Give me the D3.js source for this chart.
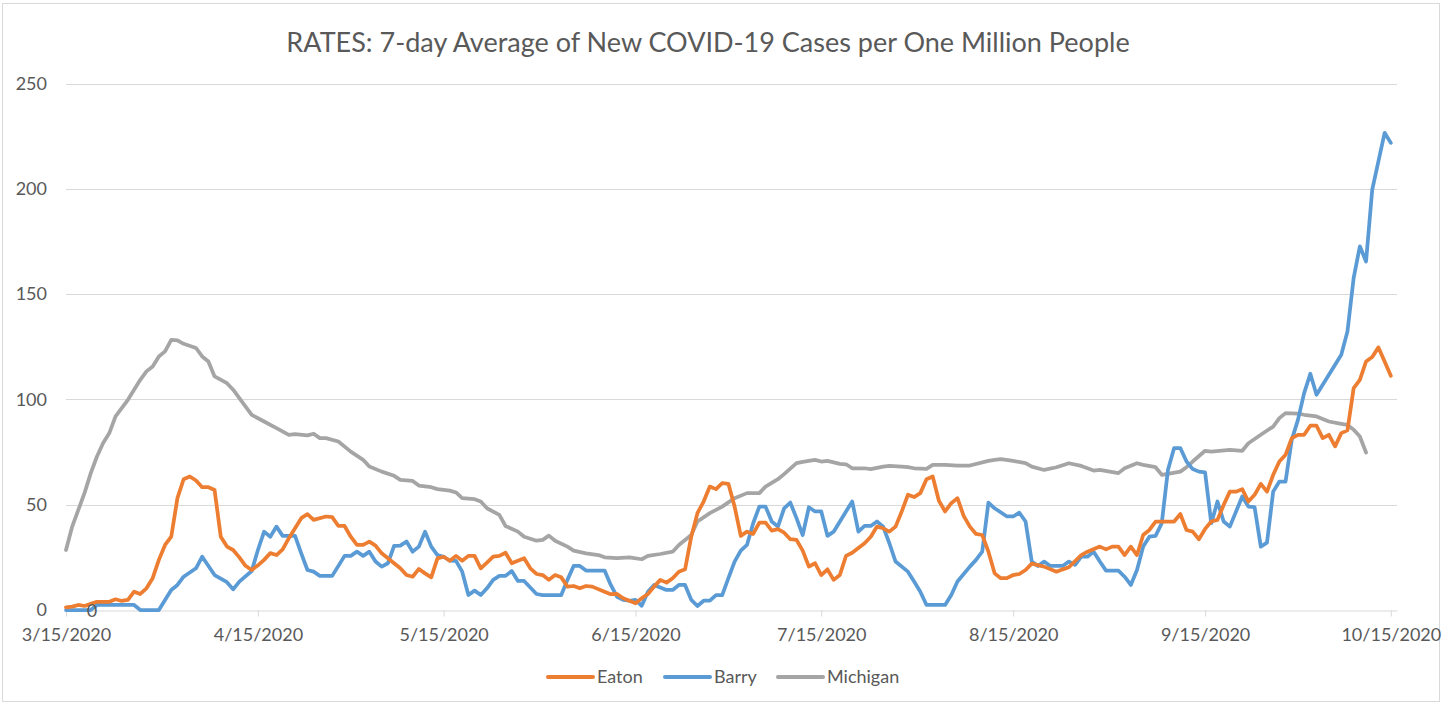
<!DOCTYPE html>
<html lang="en">
<head>
<meta charset="utf-8">
<title>RATES: 7-day Average of New COVID-19 Cases per One Million People</title>
<script src="https://cdn.jsdelivr.net/npm/d3@7"></script>
<style>
  body { margin: 0; background: #fff; }
  svg text { font-family: Lato, "Open Sans", sans-serif; fill: #595959; }
  .grid line { stroke: #D9D9D9; stroke-width: 1; }
  .series { fill: none; stroke-width: 3.75; stroke-linejoin: round; stroke-linecap: round; }
</style>
</head>
<body>
<script>

// data: [days after 3/15/2020, 7-day avg cases per million]
var startDate = "3/15/2020";
var xTicks = ["3/15/2020", "4/15/2020", "5/15/2020", "6/15/2020", "7/15/2020", "8/15/2020", "9/15/2020", "10/15/2020"];
var yTicks = [0, 50, 100, 150, 200, 250];
var seriesNames = ["Eaton", "Barry", "Michigan"];
var seriesColors = ["#ED7D31", "#5B9BD5", "#A5A5A5"];

var eaton = [[0,1.3],[1,1.6],[2,2.4],[3,1.9],[4,2.9],[5,3.9],[7,3.9],[8,5.1],[9,4.3],[10,4.8],[11,8.7],[12,7.6],[13,10.3],[14,15.1],[15,23.8],[16,30.9],[17,34.8],[18,53.1],[19,62.1],[20,63.4],[21,61.5],[22,58.3],[23,58.3],[24,57],[25,34.8],[26,30.1],[27,28.5],[28,25],[29,21],[30,19],[31,21.2],[32,23.8],[33,27],[34,26.1],[35,28.8],[36,34.1],[38,43.6],[39,45.5],[40,42.8],[42,44.4],[43,44.1],[44,39.9],[45,39.9],[46,34.8],[47,30.9],[48,30.9],[49,32.5],[50,30.6],[51,26.9],[52,24.6],[53,22.2],[54,19.8],[55,16.6],[56,15.8],[57,19.5],[58,17.4],[59,15.5],[60,24.5],[61,25.3],[62,23.4],[63,25.7],[64,23.4],[65,25.7],[66,25.7],[67,19.8],[68,22.5],[69,25.3],[70,25.7],[71,27.2],[72,22.2],[73,23.4],[74,24.6],[75,19.8],[76,17.1],[77,16.6],[78,14.3],[79,16.6],[80,15.5],[81,11.1],[82,11.4],[83,10.3],[84,11.4],[85,11.1],[87,8.7],[88,7.5],[89,7.6],[90,5.6],[91,4.4],[92,3.2],[93,5.6],[94,7.6],[95,11.1],[96,14.3],[97,13],[98,15.1],[99,18.2],[100,19.3],[101,34.8],[102,46],[103,51.5],[104,58.6],[105,57.4],[106,60.2],[107,59.9],[108,49.1],[109,35.2],[110,37.2],[111,36.1],[112,41.5],[113,41.5],[114,37.7],[115,38.4],[116,36.7],[117,33.6],[118,33.3],[119,28.2],[120,20.6],[121,22.2],[122,16.6],[123,19.3],[124,14.3],[125,16.6],[126,25.7],[127,27.2],[129,31.7],[130,34.8],[131,39.6],[132,38.8],[133,37.2],[134,39.6],[135,46.8],[136,54.7],[137,53.6],[138,55.5],[139,62.1],[140,63.4],[141,51.9],[142,46.8],[143,50.7],[144,53.1],[145,44.7],[146,39.6],[147,36.1],[148,35.6],[149,27.7],[150,17.4],[151,15.1],[152,15.1],[153,16.6],[154,17.1],[155,19],[156,22],[158,20.6],[160,18.2],[161,19.3],[162,20.3],[164,26.1],[165,27.7],[167,30.1],[168,28.8],[169,30.1],[170,30.1],[171,26.1],[172,30.1],[173,26.1],[174,35.6],[175,38],[176,42],[177,42],[179,42],[180,45.6],[181,38],[182,37.2],[183,33.6],[184,38.5],[185,42],[186,42.8],[187,49.9],[188,56.2],[189,56.2],[190,57.4],[191,51.5],[192,54.7],[193,59.9],[194,56.2],[195,64.2],[196,70.5],[197,73.7],[198,81.6],[199,83.2],[200,83.2],[201,87.5],[202,87.5],[203,81.6],[204,83.2],[205,77.7],[206,84],[207,85.3],[208,105.4],[209,109.3],[210,118],[211,120.1],[212,124.7],[213,118],[214,111.2]];

var barry = [[0,0],[4,0],[5,2.4],[11,2.4],[12,0],[15,0],[17,9.5],[18,11.9],[19,15.8],[21,19.8],[22,25.3],[24,16.6],[26,13.2],[27,9.8],[28,13.5],[30,18.5],[31,28.5],[32,37.2],[33,34.8],[34,39.6],[35,35.2],[37,35.2],[38,26.9],[39,19],[40,18.2],[41,16.2],[43,16.2],[45,25.7],[46,25.7],[47,27.7],[48,25.7],[49,27.7],[50,23],[51,20.6],[52,22.2],[53,30.4],[54,30.6],[55,32.5],[56,27.7],[57,30.1],[58,37.2],[59,30.1],[60,26.1],[61,25.3],[62,23.4],[63,23.3],[64,18.2],[65,7.1],[66,9.2],[67,7.1],[68,10.3],[69,14.3],[70,16.2],[71,16.2],[72,18.5],[73,13.8],[74,13.8],[76,7.6],[77,7.1],[80,7.1],[81,14.3],[82,20.9],[83,20.9],[84,18.7],[87,18.7],[88,11.9],[89,6.3],[90,4.8],[91,4.4],[92,4.8],[93,2],[94,8.7],[95,11.9],[97,9.5],[98,9.5],[99,11.9],[100,11.9],[101,4.8],[102,1.9],[103,4.4],[104,4.4],[105,7.1],[106,7.1],[107,15.1],[108,23],[109,28.2],[110,30.9],[111,41.2],[112,49.1],[113,49.1],[114,42],[115,39.6],[116,48.3],[117,51],[118,43.6],[119,35.6],[120,48.8],[121,46.8],[122,46.8],[123,35.2],[124,37.2],[126,46.8],[127,51.5],[128,37.2],[129,39.9],[130,39.9],[131,42],[132,39.6],[133,31.7],[134,23],[136,18.2],[137,13.5],[138,8.7],[139,2.4],[142,2.4],[143,7.1],[144,13.5],[146,20.6],[147,23.8],[148,27.7],[149,51],[150,48.3],[152,44.4],[153,44.4],[154,46.2],[155,42],[156,23],[157,20.9],[158,23],[159,20.9],[161,20.9],[162,23],[163,21.4],[164,25.3],[165,25.3],[166,27.7],[167,23],[168,18.7],[170,18.7],[171,15.8],[172,11.9],[173,19],[174,30.1],[175,34.8],[176,35.2],[177,41.2],[178,66.5],[179,76.9],[180,76.9],[181,70.5],[182,66.9],[183,65.7],[184,65.3],[185,41.2],[186,51.5],[187,42],[188,39.6],[190,53.9],[191,49.1],[192,48.8],[193,30.1],[194,32],[195,56.2],[196,61],[197,61],[198,80.8],[199,90.3],[200,103],[201,112.2],[202,102.2],[206,121.2],[207,132.3],[208,157.7],[209,172.7],[210,165.5],[211,199.6],[213,226.6],[214,221.8]];

var michigan = [[0,28.5],[1,39.6],[3,55.6],[4,65],[5,72.9],[6,79.3],[7,84],[8,91.9],[10,99.8],[12,109.3],[13,113.3],[14,115.6],[15,120.4],[16,122.8],[17,128.3],[18,128],[19,126.4],[21,124.4],[22,120.4],[23,118],[24,110.9],[26,107.7],[27,104.6],[28,100.6],[30,92.7],[32,89.5],[34,86.4],[36,83.2],[37,83.5],[39,82.9],[40,83.7],[41,81.6],[42,81.6],[44,80],[46,75.2],[48,71.3],[49,68.1],[51,65.7],[53,63.7],[54,61.8],[56,61.3],[57,59.1],[59,58.3],[60,57.4],[62,56.7],[63,55.8],[64,53.1],[66,52.6],[67,51.5],[68,48.3],[70,45.2],[71,39.9],[73,37.2],[74,34.8],[76,32.9],[77,33.3],[78,35.3],[79,32.9],[81,30.1],[82,28.2],[84,26.9],[86,26.1],[87,25],[89,24.6],[91,25],[93,24.1],[94,25.7],[96,26.6],[98,27.7],[99,30.9],[101,35.6],[102,42],[104,46],[106,49.1],[108,53.1],[110,55.5],[112,55.5],[113,58.6],[115,62.1],[116,64.5],[118,69.7],[119,70.3],[121,71.3],[122,70.5],[123,70.8],[125,69.4],[126,69.2],[127,67.3],[129,67.3],[130,66.9],[132,68.1],[133,68.4],[135,68.1],[136,67.8],[137,67.3],[139,67],[140,68.9],[142,68.9],[144,68.6],[146,68.6],[149,70.8],[150,71.3],[151,71.6],[153,70.8],[155,69.7],[156,68.1],[158,66.5],[160,67.8],[162,69.7],[164,68.4],[165,67.3],[166,66.2],[167,66.5],[170,65],[171,67.3],[173,69.7],[174,68.9],[176,67.8],[177,64.2],[178,64.6],[180,65.7],[181,67.8],[182,70.5],[184,75.6],[185,75.2],[188,76],[190,75.6],[191,79.2],[193,83.2],[195,87.1],[196,91.1],[197,93.5],[199,93.2],[200,92.7],[202,91.9],[204,89.5],[206,88.4],[207,87.9],[208,85.6],[209,82.4],[210,74.8]];

var width = 1451, height = 705;
var parseDate = d3.timeParse("%m/%d/%Y");
var t0 = parseDate(startDate);

var svg = d3.select("body").append("svg")
    .attr("width", width)
    .attr("height", height);

// chart border
svg.append("rect")
    .attr("x", 2.5).attr("y", 3.5)
    .attr("width", 1437).attr("height", 698)
    .attr("fill", "#fff")
    .attr("stroke", "#D9D9D9");

var x = d3.scaleTime()
    .domain([t0, d3.timeDay.offset(t0, 215)])
    .range([66, 1397]);

var y = d3.scaleLinear()
    .domain([0, 250])
    .range([610, 83.5]);

// title
svg.append("text")
    .attr("x", 708)
    .attr("y", 52)
    .attr("text-anchor", "middle")
    .style("font-size", "27px")
    .text("RATES: 7-day Average of New COVID-19 Cases per One Million People");

// gridlines
svg.append("g")
    .attr("class", "grid")
    .selectAll("line")
    .data(yTicks.filter(function(d) { return d > 0; }))
    .enter()
    .append("line")
    .attr("x1", 66).attr("x2", 1397)
    .attr("y1", function(d) { return Math.round(y(d)) + 0.5; })
    .attr("y2", function(d) { return Math.round(y(d)) + 0.5; });

// y labels
var yAxis = svg.append("g")
    .attr("transform", "translate(47,0)")
    .call(d3.axisLeft(y).tickValues(yTicks).tickSize(0).tickPadding(0));
yAxis.select(".domain").remove();
yAxis.selectAll("text").style("font-size", "18px").attr("fill", "#595959");

// x axis
var xAxis = svg.append("g")
    .attr("transform", "translate(0,610.5)")
    .call(d3.axisBottom(x)
        .tickValues(xTicks.map(parseDate))
        .tickFormat(function(d, i) { return xTicks[i]; })
        .tickSize(6)
        .tickPadding(12)
        .tickSizeOuter(0));
xAxis.select(".domain").attr("stroke", "#D9D9D9");
xAxis.selectAll(".tick line").attr("stroke", "#D9D9D9");
xAxis.selectAll("text").style("font-size", "18px").attr("fill", "#595959");

// lines
var line = d3.line()
    .x(function(d) { return x(d3.timeDay.offset(t0, d[0])); })
    .y(function(d) { return y(d[1]); });

var allSeries = [eaton, barry, michigan];

svg.selectAll(".series")
    .data([2, 1, 0])
    .enter()
    .append("path")
    .attr("class", "series")
    .attr("stroke", function(i) { return seriesColors[i]; })
    .attr("d", function(i) { return line(allSeries[i]); });

// stray zero label sitting on the axis
svg.append("text")
    .attr("x", 92)
    .attr("y", 611)
    .attr("dy", "0.35em")
    .attr("text-anchor", "middle")
    .style("font-size", "18px")
    .text("0");

// legend
var legendX = [548, 665, 778];
var legend = svg.append("g")
    .selectAll("g")
    .data(seriesNames)
    .enter()
    .append("g")
    .attr("transform", function(d, i) { return "translate(" + legendX[i] + ",677)"; });

legend.append("line")
    .attr("x1", 0).attr("x2", 45)
    .attr("stroke", function(d, i) { return seriesColors[i]; })
    .attr("stroke-width", 4)
    .attr("stroke-linecap", "round");

legend.append("text")
    .attr("x", 49)
    .attr("dy", "0.35em")
    .style("font-size", "18px")
    .text(function(d) { return d; });

</script>
</body>
</html>
